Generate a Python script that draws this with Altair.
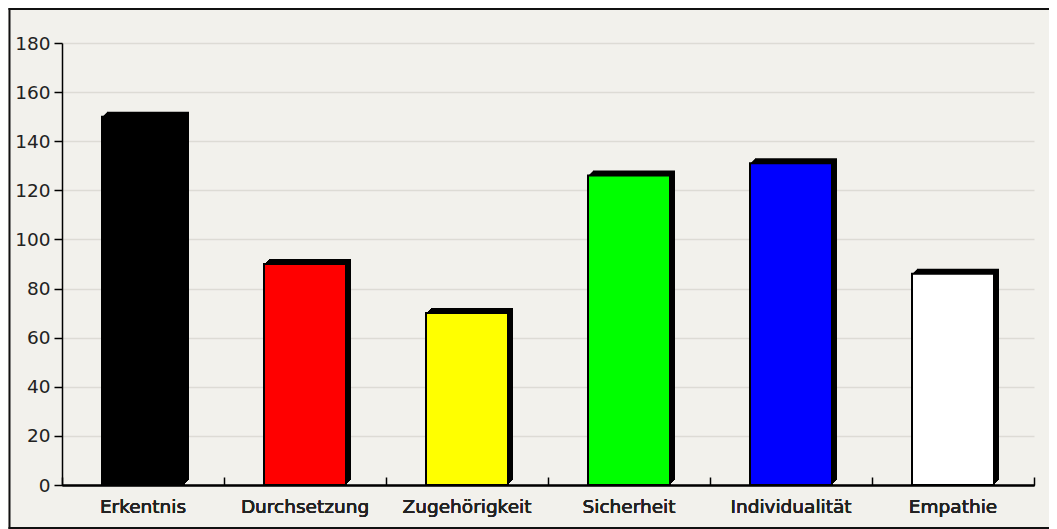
import altair as alt
import pandas as pd

categories = ["Erkentnis", "Durchsetzung", "Zugehörigkeit", "Sicherheit", "Individualität", "Empathie"]
values = [150, 90, 70, 126, 131, 86]
colors = ["#000000", "#ff0000", "#ffff00", "#00ff00", "#0000ff", "#ffffff"]
y_ticks = [0, 20, 40, 60, 80, 100, 120, 140, 160, 180]

df = pd.DataFrame({"cat": categories, "val": values})

W, H = 972, 442
FONT = "DejaVu Sans"
FS = 18.5
TXT = "#222222"

x_bottom = alt.X("cat:N", sort=categories, title=None,
                 scale=alt.Scale(paddingInner=0, paddingOuter=0),
                 axis=alt.Axis(orient="bottom", labelAngle=0, ticks=False, domain=True,
                               domainColor="black", domainWidth=1.5, labelFont=FONT,
                               labelFontSize=FS, labelColor=TXT, labelPadding=12,
                               grid=False))
x_top = alt.X("cat:N", sort=categories, title=None,
              scale=alt.Scale(paddingInner=0, paddingOuter=0),
              axis=alt.Axis(orient="top", offset=-H, labels=False, domain=False,
                            ticks=True, tickBand="extent", tickSize=8, tickColor="black",
                            tickWidth=1.5, grid=False))
y_enc = alt.Y("val:Q", title=None,
              scale=alt.Scale(domain=[0, 180], nice=False),
              axis=alt.Axis(values=y_ticks, grid=True, gridColor="#dddbd5", gridWidth=1.5,
                            tickSize=8, tickColor="black", tickWidth=1.5, domainColor="black",
                            domainWidth=1.5, labelFont=FONT, labelFontSize=FS,
                            labelColor=TXT, labelPadding=4))

one = alt.Data(values=[{}])
frame_left = alt.Chart(one).mark_rule(color="#111111", strokeWidth=2).encode(
    x=alt.value(-52.5), y=alt.value(-35), y2=alt.value(486))
frame_top = alt.Chart(one).mark_rule(color="#111111", strokeWidth=2).encode(
    x=alt.value(-53.5), x2=alt.value(W + 15), y=alt.value(-34))
frame_bottom = alt.Chart(one).mark_rule(color="#111111", strokeWidth=2).encode(
    x=alt.value(-53.5), x2=alt.value(W + 15), y=alt.value(485))

layers = [frame_left, frame_top, frame_bottom]
for k in range(1, 6):
    shadow = alt.Chart(df).mark_bar(
        color="black", width=82, xOffset=k, yOffset=-k, y2Offset=-k
    ).encode(x=x_bottom, y=y_enc)
    layers.append(shadow)

face = alt.Chart(df).mark_bar(width=82, stroke="black", strokeWidth=2).encode(
    x=x_top, y=y_enc,
    color=alt.Color("cat:N", scale=alt.Scale(domain=categories, range=colors), legend=None),
)
layers.append(face)

chart = alt.layer(*layers).resolve_axis(x="independent").properties(
    width=W, height=H,
    background="#f2f1ec",
    padding={"left": 54, "top": 35, "right": 15, "bottom": 44},
    autosize=alt.AutoSizeParams(type="none"),
).configure_view(stroke=None)

chart.save("out.html", embed_options={"renderer": "svg", "actions": False})
